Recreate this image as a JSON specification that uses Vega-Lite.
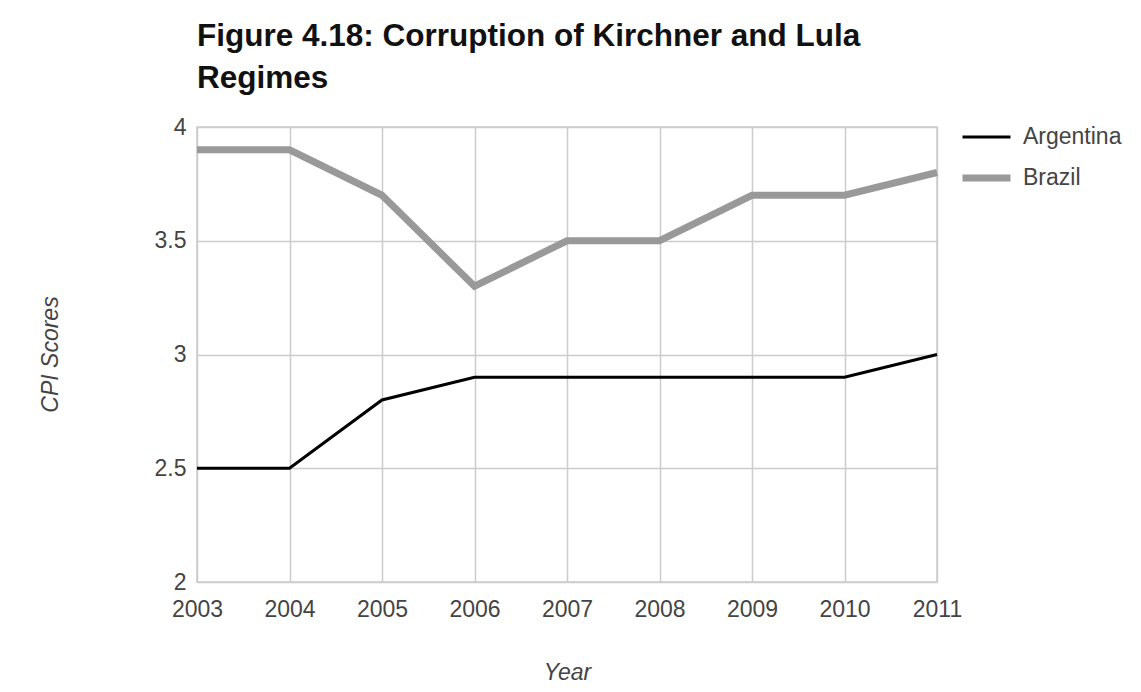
{
  "$schema": "https://vega.github.io/schema/vega-lite/v6.json",
  "autosize": "none",
  "width": 740,
  "height": 455,
  "padding": {"left": 197, "top": 127, "right": 204, "bottom": 110},
  "background": "white",
  "title": {
    "text": ["Figure 4.18: Corruption of Kirchner and Lula", "Regimes"],
    "anchor": "start",
    "frame": "group",
    "font": "Arial",
    "fontSize": 31.5,
    "fontWeight": "bold",
    "color": "#111",
    "lineHeight": 42,
    "offset": 22
  },
  "data": {
    "values": [
      {"year": 2003, "country": "Argentina", "cpi": 2.5},
      {"year": 2004, "country": "Argentina", "cpi": 2.5},
      {"year": 2005, "country": "Argentina", "cpi": 2.8},
      {"year": 2006, "country": "Argentina", "cpi": 2.9},
      {"year": 2007, "country": "Argentina", "cpi": 2.9},
      {"year": 2008, "country": "Argentina", "cpi": 2.9},
      {"year": 2009, "country": "Argentina", "cpi": 2.9},
      {"year": 2010, "country": "Argentina", "cpi": 2.9},
      {"year": 2011, "country": "Argentina", "cpi": 3.0},
      {"year": 2003, "country": "Brazil", "cpi": 3.9},
      {"year": 2004, "country": "Brazil", "cpi": 3.9},
      {"year": 2005, "country": "Brazil", "cpi": 3.7},
      {"year": 2006, "country": "Brazil", "cpi": 3.3},
      {"year": 2007, "country": "Brazil", "cpi": 3.5},
      {"year": 2008, "country": "Brazil", "cpi": 3.5},
      {"year": 2009, "country": "Brazil", "cpi": 3.7},
      {"year": 2010, "country": "Brazil", "cpi": 3.7},
      {"year": 2011, "country": "Brazil", "cpi": 3.8}
    ]
  },
  "mark": {"type": "line", "strokeCap": "butt", "strokeJoin": "miter"},
  "encoding": {
    "x": {
      "field": "year",
      "type": "quantitative",
      "scale": {"domain": [2003, 2011], "nice": false, "zero": false},
      "axis": {
        "values": [2003, 2004, 2005, 2006, 2007, 2008, 2009, 2010, 2011],
        "format": "d",
        "title": "Year",
        "titleFontStyle": "italic",
        "titleFontWeight": "normal",
        "titlePadding": 40,
        "labelPadding": 16,
        "labelFlush": false,
        "labelOverlap": false
      }
    },
    "y": {
      "field": "cpi",
      "type": "quantitative",
      "scale": {"domain": [2, 4], "nice": false, "zero": false},
      "axis": {
        "values": [2, 2.5, 3, 3.5, 4],
        "format": "~g",
        "title": "CPI Scores",
        "titleFontStyle": "italic",
        "titleFontWeight": "normal",
        "titleX": -147,
        "titleY": 227,
        "titleAlign": "center",
        "titleBaseline": "middle",
        "labelPadding": 11
      }
    },
    "color": {
      "field": "country",
      "type": "nominal",
      "scale": {"domain": ["Argentina", "Brazil"], "range": ["#000000", "#999999"]},
      "legend": {
        "title": null,
        "orient": "none",
        "legendX": 762,
        "legendY": 0,
        "symbolType": "stroke",
        "symbolSize": 2304,
        "labelFontSize": 23,
        "labelFont": "Liberation Sans",
        "labelColor": "#444",
        "labelOffset": 9,
        "clipHeight": 20,
        "rowPadding": 18,
        "padding": 0
      }
    },
    "strokeWidth": {
      "field": "country",
      "type": "nominal",
      "scale": {"domain": ["Argentina", "Brazil"], "range": [3, 7]},
      "legend": null
    }
  },
  "config": {
    "view": {"stroke": "#cccccc", "strokeWidth": 1.5},
    "axis": {
      "domain": false,
      "ticks": false,
      "grid": true,
      "gridColor": "#cccccc",
      "gridWidth": 1.5,
      "labelFont": "Liberation Sans",
      "labelFontSize": 23,
      "labelColor": "#444444",
      "titleFont": "Liberation Sans",
      "titleFontSize": 23,
      "titleColor": "#444444"
    }
  }
}
